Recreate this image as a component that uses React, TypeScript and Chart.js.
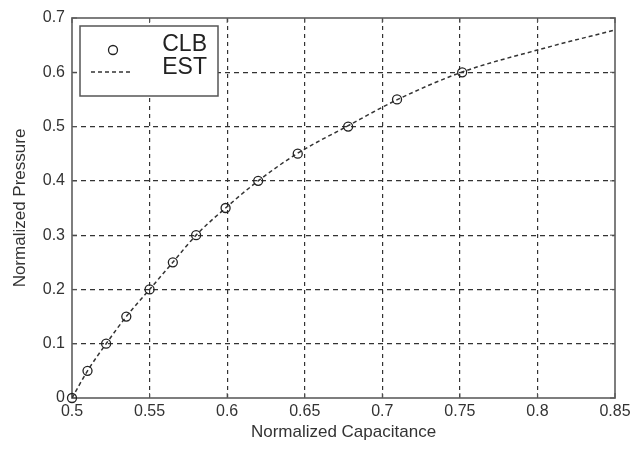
import React, { useEffect, useRef } from "react";
import { Chart, registerables } from "chart.js";

Chart.register(...registerables);

// Calibration points (CLB)
const clbX = [0.5, 0.51, 0.522, 0.535, 0.55, 0.565, 0.58, 0.599, 0.62, 0.6455, 0.678, 0.7095, 0.7515];
const clbY = [0, 0.05, 0.1, 0.15, 0.2, 0.25, 0.3, 0.35, 0.4, 0.45, 0.5, 0.55, 0.6];

// Estimated curve (EST)
const estX = [0.5, 0.51, 0.522, 0.535, 0.55, 0.565, 0.58, 0.599, 0.62, 0.645, 0.677, 0.71, 0.751, 0.8, 0.85];
const estY = [0, 0.05, 0.1, 0.15, 0.2, 0.25, 0.3, 0.35, 0.4, 0.45, 0.5, 0.55, 0.6, 0.641, 0.678];

const xMin = 0.5;
const xMax = 0.85;
const xStep = 0.05;
const yMin = 0;
const yMax = 0.7;
const yStep = 0.1;

const seriesLabels = ["CLB", "EST"];
const xTitle = "Normalized Capacitance";
const yTitle = "Normalized Pressure";

const FONT = '"Liberation Sans", Arial, Helvetica, sans-serif';
const INK = "#222";
const TEXT = "#333";
const GRID = "#333";
const FRAME = "#707070";

const fmt = (v: number) => String(Number(Number(v).toFixed(2)));

const framePlugin = {
  id: "frame",
  beforeDatasetsDraw(chart: any) {
    const { ctx, chartArea } = chart;
    const { left, right, top, bottom } = chartArea;
    ctx.save();
    ctx.strokeStyle = FRAME;
    ctx.lineWidth = 1.8;
    ctx.setLineDash([]);
    ctx.strokeRect(left, top, right - left, bottom - top);
    // inward tick marks
    ctx.lineWidth = 1;
    ctx.strokeStyle = "#555";
    const xs = chart.scales.x;
    const ys = chart.scales.y;
    const len = 5;
    xs.ticks.forEach((t: any) => {
      const px = xs.getPixelForValue(t.value);
      ctx.beginPath();
      ctx.moveTo(px, bottom);
      ctx.lineTo(px, bottom - len);
      ctx.moveTo(px, top);
      ctx.lineTo(px, top + len);
      ctx.stroke();
    });
    ys.ticks.forEach((t: any) => {
      const py = ys.getPixelForValue(t.value);
      ctx.beginPath();
      ctx.moveTo(left, py);
      ctx.lineTo(left + len, py);
      ctx.moveTo(right, py);
      ctx.lineTo(right - len, py);
      ctx.stroke();
    });
    ctx.restore();
  },
};

const legendPlugin = {
  id: "boxLegend",
  afterDraw(chart: any) {
    const { ctx, chartArea } = chart;
    const ds = chart.data.datasets;
    const bx = chartArea.left + 8;
    const by = chartArea.top + 8;
    const bw = 138;
    const bh = 70;
    ctx.save();
    ctx.fillStyle = "#fff";
    ctx.fillRect(bx, by, bw, bh);
    ctx.strokeStyle = "#555";
    ctx.lineWidth = 1.5;
    ctx.setLineDash([]);
    ctx.strokeRect(bx, by, bw, bh);

    ctx.font = `23px ${FONT}`;
    ctx.fillStyle = INK;
    ctx.textAlign = "right";
    ctx.textBaseline = "middle";
    const textRight = bx + bw - 11;

    // row 1: marker
    const r1 = by + 19;
    ctx.fillText(ds[0].label, textRight, r1);
    ctx.beginPath();
    ctx.lineWidth = 1.3;
    ctx.strokeStyle = ds[0].borderColor;
    ctx.arc(bx + 33, r1 + 5, 4.5, 0, Math.PI * 2);
    ctx.stroke();

    // row 2: dashed line
    const r2 = by + 42;
    ctx.fillText(ds[1].label, textRight, r2);
    ctx.beginPath();
    ctx.strokeStyle = ds[1].borderColor;
    ctx.lineWidth = ds[1].borderWidth;
    ctx.setLineDash(ds[1].borderDash);
    ctx.moveTo(bx + 11, r2 + 4);
    ctx.lineTo(bx + 53, r2 + 4);
    ctx.stroke();
    ctx.restore();
  },
};

export default function App() {
  const ref = useRef<HTMLCanvasElement | null>(null);

  useEffect(() => {
    if (!ref.current) return;
    const gridColor = (c: any, min: number, max: number) => {
      const v = c.tick ? c.tick.value : NaN;
      if (Math.abs(v - min) < 1e-6 || Math.abs(v - max) < 1e-6) return "rgba(0,0,0,0)";
      return GRID;
    };
    const chart = new Chart(ref.current, {
      type: "scatter",
      data: {
        datasets: [
          {
            label: seriesLabels[0],
            data: clbX.map((x, i) => ({ x, y: clbY[i] })),
            showLine: false,
            pointStyle: "circle",
            pointRadius: 4.5,
            pointBorderWidth: 1.3,
            borderColor: INK,
            backgroundColor: "rgba(0,0,0,0)",
            clip: false,
            order: 0,
          },
          {
            label: seriesLabels[1],
            data: estX.map((x, i) => ({ x, y: estY[i] })),
            showLine: true,
            pointRadius: 0,
            borderColor: "#333",
            borderWidth: 1.5,
            borderDash: [4, 3],
            cubicInterpolationMode: "monotone",
            fill: false,
            order: 1,
          },
        ],
      },
      options: {
        responsive: false,
        animation: false,
        events: [],
        layout: { padding: { top: 18, right: 23, left: 0, bottom: 0 } },
        plugins: {
          legend: { display: false },
          tooltip: { enabled: false },
        },
        scales: {
          x: {
            type: "linear",
            min: xMin,
            max: xMax,
            afterFit: (s: any) => {
              s.height = 52;
            },
            ticks: {
              stepSize: xStep,
              padding: 4,
              color: TEXT,
              font: { family: FONT, size: 16 },
              maxRotation: 0,
              callback: (v: any) => fmt(v),
            },
            grid: {
              color: (c: any) => gridColor(c, xMin, xMax),
              lineWidth: 1.2,
              drawTicks: false,
            },
            border: { display: false, dash: [4, 4] },
            title: {
              display: true,
              text: xTitle,
              color: TEXT,
              font: { family: FONT, size: 17 },
              padding: { top: 0, bottom: 7 },
            },
          },
          y: {
            type: "linear",
            min: yMin,
            max: yMax,
            afterFit: (s: any) => {
              s.width = 72;
            },
            ticks: {
              stepSize: yStep,
              padding: 7,
              color: TEXT,
              font: { family: FONT, size: 16 },
              callback: (v: any) => fmt(v),
            },
            grid: {
              color: (c: any) => gridColor(c, yMin, yMax),
              lineWidth: 1.2,
              drawTicks: false,
            },
            border: { display: false, dash: [5, 4] },
            title: {
              display: true,
              text: yTitle,
              color: TEXT,
              font: { family: FONT, size: 17 },
              padding: { top: 10, bottom: 0 },
            },
          },
        },
      },
      plugins: [framePlugin, legendPlugin],
    } as any);
    return () => chart.destroy();
  }, []);

  return (
    <div style={{ position: "fixed", left: 0, top: 0, width: 638, height: 450, background: "#fff" }}>
      <canvas ref={ref} width={638} height={450} />
    </div>
  );
}
